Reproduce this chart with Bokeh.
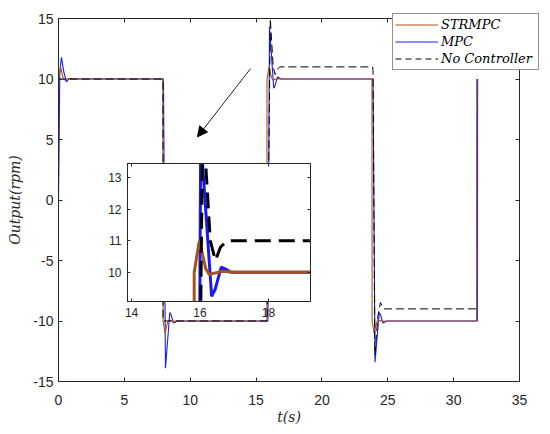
from bokeh.plotting import figure
from bokeh.models import (Range1d, LinearAxis, FixedTicker, Legend, LegendItem,
                          Arrow, NormalHead)
from bokeh.embed import file_html
from bokeh.resources import INLINE

# ---------------- data ----------------
t_strmpc = [0.0, 0.01, 0.16, 0.35, 0.45, 0.84, 1.2,
            7.93, 7.94, 8.09, 8.28, 8.38, 8.77, 9.1,
            15.82, 15.83, 15.98, 16.17, 16.27, 16.66, 17.0,
            23.8, 23.81, 23.96, 24.15, 24.25, 24.64, 25.0,
            31.74, 31.75]
y_strmpc = [0.0, 10.0, 11.0, 10.1, 9.93, 10.03, 10.0,
            10.0, -10.0, -11.0, -10.1, -9.93, -10.03, -10.0,
            -10.0, 10.0, 11.0, 10.1, 9.93, 10.03, 10.0,
            10.0, -10.0, -11.0, -10.1, -9.93, -10.03, -10.0,
            -10.0, 10.0]

t_mpc = [0.0, 0.1, 0.22, 0.4, 0.6, 0.8, 1.05,
         7.97, 8.12, 8.45, 8.55, 8.72, 8.85, 9.0,
         15.9, 16.02, 16.34, 16.44, 16.62, 16.75, 16.9,
         23.88, 24.03, 24.35, 24.45, 24.62, 24.75, 24.9,
         31.8, 31.82]
y_mpc = [0.0, 10.5, 11.8, 10.6, 9.76, 10.05, 10.0,
         10.0, -13.9, -9.3, -9.5, -10.16, -10.1, -10.0,
         -10.0, 14.3, 9.23, 9.45, 10.16, 10.1, 10.0,
         10.0, -13.4, -9.3, -9.5, -10.16, -10.1, -10.0,
         -10.0, 10.0]

t_noctrl = [0.0, 0.01, 7.93, 7.94, 15.84, 16.08, 16.3, 16.45, 16.6, 16.8,
            23.84, 23.88, 24.02, 24.25, 24.44, 24.7, 31.77]
y_noctrl = [0.0, 10.0, 10.0, -10.0, -10.0, 15.0, 11.0, 10.37, 10.8, 11.0,
            11.0, 10.7, -12.8, -9.6, -8.48, -9.0, -9.0]

series_names = ["STRMPC", "MPC", "No Controller"]

x_ticks = [0, 5, 10, 15, 20, 25, 30, 35]
x_tick_labels = ["0", "5", "10", "15", "20", "25", "30", "35"]
y_ticks = [-15, -10, -5, 0, 5, 10, 15]
y_tick_labels = ["-15", "-10", "-5", "0", "5", "10", "15"]

inset_x_ticks = [14, 16, 18]
inset_x_tick_labels = ["14", "16", "18"]
inset_y_ticks = [10, 11, 12, 13]
inset_y_tick_labels = ["10", "11", "12", "13"]

x_label = "t(s)"
y_label = "Output(rpm)"

# arrow (data coordinates of main axes)
arrow_start = (14.59, 10.87)
arrow_end = (10.55, 5.22)

# ---------------- style ----------------
AX = "#262626"
BROWN = "#A5541F"
BLUE = "#1A1AF0"
TICK_FONT = "Liberation Sans"
SERIF = "DejaVu Serif"


def style_axis(ax, ticks, labels, size="14px", tick_len=4, standoff=6, show=True):
    ax.ticker = FixedTicker(ticks=ticks)
    ax.axis_line_color = AX
    ax.axis_line_width = 1
    ax.major_tick_line_color = AX
    ax.minor_tick_line_color = None
    ax.major_tick_in = tick_len
    ax.major_tick_out = 0
    ax.major_label_text_font = TICK_FONT
    ax.major_label_text_color = AX
    if show:
        ax.major_label_overrides = {t: s for t, s in zip(ticks, labels)}
        ax.major_label_text_font_size = size
        ax.major_label_standoff = standoff
    else:
        ax.major_label_overrides = {t: "" for t in ticks}
        ax.major_label_text_font_size = "0px"
        ax.major_label_standoff = 0


# ---------------- main figure ----------------
p = figure(frame_width=461, frame_height=363,
           x_range=Range1d(0, 35), y_range=Range1d(-15, 15),
           output_backend="svg", toolbar_location=None,
           min_border_left=58, min_border_right=29,
           min_border_top=18, min_border_bottom=51,
           x_axis_location=None, y_axis_location=None,
           background_fill_color="white", border_fill_color="white",
           outline_line_color=AX)
p.xgrid.visible = False
p.ygrid.visible = False

xb = LinearAxis()
style_axis(xb, x_ticks, x_tick_labels, standoff=13)
xb.axis_label = x_label
xb.axis_label_text_font = SERIF
xb.axis_label_text_font_style = "italic"
xb.axis_label_text_font_size = "14px"
xb.axis_label_text_color = AX
xb.axis_label_standoff = 1
p.add_layout(xb, "below")

yl = LinearAxis()
style_axis(yl, y_ticks, y_tick_labels, standoff=5)
yl.axis_label = y_label
yl.axis_label_text_font = SERIF
yl.axis_label_text_font_style = "italic"
yl.axis_label_text_font_size = "14px"
yl.axis_label_text_color = AX
yl.axis_label_standoff = 7
p.add_layout(yl, "left")

xt = LinearAxis()
style_axis(xt, x_ticks, x_tick_labels, show=False)
p.add_layout(xt, "above")
yr = LinearAxis()
style_axis(yr, y_ticks, y_tick_labels, show=False)
p.add_layout(yr, "right")

r_mpc = p.line(t_mpc, y_mpc, line_color=BLUE, line_width=1.1)
r_str = p.line(t_strmpc, y_strmpc, line_color=BROWN, line_width=1.1)
r_nc = p.line(t_noctrl, y_noctrl, line_color="black", line_width=1, line_dash="8 4")

p.add_layout(Arrow(end=NormalHead(size=10, fill_color="black", line_color="black"),
                   x_start=arrow_start[0], y_start=arrow_start[1],
                   x_end=arrow_end[0], y_end=arrow_end[1],
                   line_color="#222222", line_width=1))

# ---------------- inset figure ----------------
ins = figure(frame_width=183, frame_height=138,
             x_range=Range1d(13.88, 19.23), y_range=Range1d(9.07, 13.45),
             output_backend="svg", toolbar_location=None,
             min_border_left=30, min_border_right=2,
             min_border_top=2, min_border_bottom=22,
             x_axis_location=None, y_axis_location=None,
             background_fill_color="white", border_fill_alpha=0,
             outline_line_color=AX)
ins.xgrid.visible = False
ins.ygrid.visible = False

ixb = LinearAxis()
style_axis(ixb, inset_x_ticks, inset_x_tick_labels, size="12px", tick_len=3, standoff=6)
ins.add_layout(ixb, "below")
iyl = LinearAxis()
style_axis(iyl, inset_y_ticks, inset_y_tick_labels, size="12px", tick_len=3, standoff=6)
ins.add_layout(iyl, "left")
ixt = LinearAxis()
style_axis(ixt, inset_x_ticks, inset_x_tick_labels, tick_len=3, show=False)
ins.add_layout(ixt, "above")
iyr = LinearAxis()
style_axis(iyr, inset_y_ticks, inset_y_tick_labels, tick_len=3, show=False)
ins.add_layout(iyr, "right")

ins.line(t_mpc, y_mpc, line_color=BLUE, line_width=3)
ins.line(t_strmpc, y_strmpc, line_color=BROWN, line_width=3)
ins.line(t_noctrl, y_noctrl, line_color="black", line_width=3, line_dash="16 8")

ins.styles = {"position": "absolute", "left": "97px", "top": "161px"}

# ---------------- legend (overlay, may extend beyond the axes box) ----------------
# The legend lives in its own small panel whose view window lies past the end of the
# data (t > 35), so only the legend box itself is visible there.
lg = figure(width=152, height=60, output_backend="svg", toolbar_location=None,
            x_range=Range1d(40, 41), y_range=Range1d(0, 1),
            min_border=0, x_axis_location=None, y_axis_location=None,
            background_fill_alpha=0, border_fill_alpha=0, outline_line_color=None)
lg.xgrid.visible = False
lg.ygrid.visible = False
l_str = lg.line(t_strmpc, y_strmpc, line_color=BROWN, line_width=1.1)
l_mpc = lg.line(t_mpc, y_mpc, line_color=BLUE, line_width=1.1)
l_nc = lg.line(t_noctrl, y_noctrl, line_color="black", line_width=1, line_dash="6 4")
legend = Legend(items=[LegendItem(label=series_names[0], renderers=[l_str]),
                       LegendItem(label=series_names[1], renderers=[l_mpc]),
                       LegendItem(label=series_names[2], renderers=[l_nc])],
                location="top_left")
legend.label_text_font = SERIF
legend.label_text_font_style = "italic"
legend.label_text_font_size = "13px"
legend.label_text_color = "black"
legend.glyph_width = 43
legend.glyph_height = 17
legend.label_height = 17
legend.label_width = 95
legend.label_standoff = 3
legend.spacing = 0
legend.padding = 2
legend.margin = 2
legend.border_line_color = AX
legend.border_line_width = 1
legend.background_fill_color = "white"
legend.background_fill_alpha = 1
lg.add_layout(legend)
lg.styles = {"position": "absolute", "left": "390px", "top": "11px"}

open("out.html", "w").write(file_html([p, ins, lg], INLINE))
